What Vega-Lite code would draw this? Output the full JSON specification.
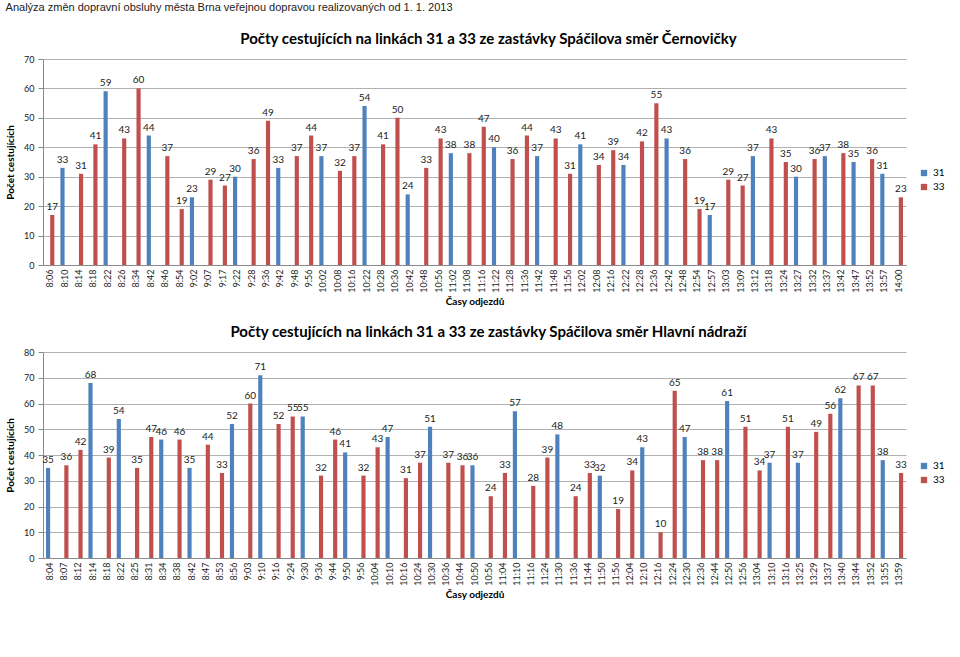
{
  "$schema": "https://vega.github.io/schema/vega-lite/v6.json",
  "background": "white",
  "padding": {"left": 5, "top": 2, "right": 5, "bottom": 5},
  "title": {"text": "Analýza změn dopravní obsluhy města Brna veřejnou dopravou realizovaných od 1. 1. 2013", "anchor": "start", "fontSize": 11, "font": "Liberation Sans", "fontWeight": "normal", "color": "#222", "offset": 19},
  "datasets": {
    "cern": [
      {"t": "8:06", "l": "33", "n": 17}, {"t": "8:10", "l": "31", "n": 33}, {"t": "8:14", "l": "33", "n": 31}, {"t": "8:18", "l": "33", "n": 41},
      {"t": "8:22", "l": "31", "n": 59}, {"t": "8:26", "l": "33", "n": 43}, {"t": "8:34", "l": "33", "n": 60}, {"t": "8:42", "l": "31", "n": 44},
      {"t": "8:46", "l": "33", "n": 37}, {"t": "8:54", "l": "33", "n": 19}, {"t": "9:02", "l": "31", "n": 23}, {"t": "9:07", "l": "33", "n": 29},
      {"t": "9:17", "l": "33", "n": 27}, {"t": "9:22", "l": "31", "n": 30}, {"t": "9:28", "l": "33", "n": 36}, {"t": "9:36", "l": "33", "n": 49},
      {"t": "9:42", "l": "31", "n": 33}, {"t": "9:48", "l": "33", "n": 37}, {"t": "9:56", "l": "33", "n": 44}, {"t": "10:02", "l": "31", "n": 37},
      {"t": "10:08", "l": "33", "n": 32}, {"t": "10:16", "l": "33", "n": 37}, {"t": "10:22", "l": "31", "n": 54}, {"t": "10:28", "l": "33", "n": 41},
      {"t": "10:36", "l": "33", "n": 50}, {"t": "10:42", "l": "31", "n": 24}, {"t": "10:48", "l": "33", "n": 33}, {"t": "10:56", "l": "33", "n": 43},
      {"t": "11:02", "l": "31", "n": 38}, {"t": "11:08", "l": "33", "n": 38}, {"t": "11:16", "l": "33", "n": 47}, {"t": "11:22", "l": "31", "n": 40},
      {"t": "11:28", "l": "33", "n": 36}, {"t": "11:36", "l": "33", "n": 44}, {"t": "11:42", "l": "31", "n": 37}, {"t": "11:48", "l": "33", "n": 43},
      {"t": "11:56", "l": "33", "n": 31}, {"t": "12:02", "l": "31", "n": 41}, {"t": "12:08", "l": "33", "n": 34}, {"t": "12:16", "l": "33", "n": 39},
      {"t": "12:22", "l": "31", "n": 34}, {"t": "12:28", "l": "33", "n": 42}, {"t": "12:36", "l": "33", "n": 55}, {"t": "12:42", "l": "31", "n": 43},
      {"t": "12:48", "l": "33", "n": 36}, {"t": "12:54", "l": "33", "n": 19}, {"t": "12:57", "l": "31", "n": 17}, {"t": "13:03", "l": "33", "n": 29},
      {"t": "13:09", "l": "33", "n": 27}, {"t": "13:12", "l": "31", "n": 37}, {"t": "13:18", "l": "33", "n": 43}, {"t": "13:24", "l": "33", "n": 35},
      {"t": "13:27", "l": "31", "n": 30}, {"t": "13:32", "l": "33", "n": 36}, {"t": "13:37", "l": "31", "n": 37}, {"t": "13:42", "l": "33", "n": 38},
      {"t": "13:47", "l": "31", "n": 35}, {"t": "13:52", "l": "33", "n": 36}, {"t": "13:57", "l": "31", "n": 31}, {"t": "14:00", "l": "33", "n": 23}
    ],
    "hlavni": [
      {"t": "8:04", "l": "31", "n": 35}, {"t": "8:07", "l": "33", "n": 36}, {"t": "8:12", "l": "33", "n": 42}, {"t": "8:14", "l": "31", "n": 68},
      {"t": "8:18", "l": "33", "n": 39}, {"t": "8:22", "l": "31", "n": 54}, {"t": "8:25", "l": "33", "n": 35}, {"t": "8:31", "l": "33", "n": 47},
      {"t": "8:34", "l": "31", "n": 46}, {"t": "8:38", "l": "33", "n": 46}, {"t": "8:42", "l": "31", "n": 35}, {"t": "8:47", "l": "33", "n": 44},
      {"t": "8:53", "l": "33", "n": 33}, {"t": "8:56", "l": "31", "n": 52}, {"t": "9:03", "l": "33", "n": 60}, {"t": "9:10", "l": "31", "n": 71},
      {"t": "9:16", "l": "33", "n": 52}, {"t": "9:24", "l": "33", "n": 55}, {"t": "9:30", "l": "31", "n": 55}, {"t": "9:36", "l": "33", "n": 32},
      {"t": "9:44", "l": "33", "n": 46}, {"t": "9:50", "l": "31", "n": 41}, {"t": "9:56", "l": "33", "n": 32}, {"t": "10:04", "l": "33", "n": 43},
      {"t": "10:10", "l": "31", "n": 47}, {"t": "10:16", "l": "33", "n": 31}, {"t": "10:24", "l": "33", "n": 37}, {"t": "10:30", "l": "31", "n": 51},
      {"t": "10:36", "l": "33", "n": 37}, {"t": "10:44", "l": "33", "n": 36}, {"t": "10:50", "l": "31", "n": 36}, {"t": "10:56", "l": "33", "n": 24},
      {"t": "11:04", "l": "33", "n": 33}, {"t": "11:10", "l": "31", "n": 57}, {"t": "11:16", "l": "33", "n": 28}, {"t": "11:24", "l": "33", "n": 39},
      {"t": "11:30", "l": "31", "n": 48}, {"t": "11:36", "l": "33", "n": 24}, {"t": "11:44", "l": "33", "n": 33}, {"t": "11:50", "l": "31", "n": 32},
      {"t": "11:56", "l": "33", "n": 19}, {"t": "12:04", "l": "33", "n": 34}, {"t": "12:10", "l": "31", "n": 43}, {"t": "12:16", "l": "33", "n": 10},
      {"t": "12:24", "l": "33", "n": 65}, {"t": "12:30", "l": "31", "n": 47}, {"t": "12:36", "l": "33", "n": 38}, {"t": "12:44", "l": "33", "n": 38},
      {"t": "12:50", "l": "31", "n": 61}, {"t": "12:56", "l": "33", "n": 51}, {"t": "13:04", "l": "33", "n": 34}, {"t": "13:10", "l": "31", "n": 37},
      {"t": "13:16", "l": "33", "n": 51}, {"t": "13:25", "l": "31", "n": 37}, {"t": "13:29", "l": "33", "n": 49}, {"t": "13:37", "l": "33", "n": 56},
      {"t": "13:40", "l": "31", "n": 62}, {"t": "13:44", "l": "33", "n": 67}, {"t": "13:52", "l": "33", "n": 67}, {"t": "13:55", "l": "31", "n": 38},
      {"t": "13:59", "l": "33", "n": 33}
    ]
  },
  "vconcat": [
    {
      "width": 863, "height": 206,
      "title": {"text": "Počty cestujících na linkách 31 a 33 ze zastávky Spáčilova směr Černovičky", "fontSize": 15, "font": "Lato", "fontWeight": "bold", "color": "#000", "dx": 14, "offset": 8},
      "data": {"name": "cern"},
      "encoding": {
        "x": {"field": "t", "type": "nominal", "sort": null, "scale": {"paddingInner": 0.42, "paddingOuter": 0.21}, "axis": {"title": "Časy odjezdů", "labelAngle": -90, "ticks": false, "labelPadding": 4}},
        "xOffset": {"field": "l", "type": "nominal", "scale": {"domain": ["31", "33"]}},
        "y": {"field": "n", "type": "quantitative", "scale": {"domain": [0, 70]}, "axis": {"title": "Počet cestujících", "values": [0, 10, 20, 30, 40, 50, 60, 70]}}
      },
      "layer": [
        {"mark": {"type": "bar"}, "encoding": {"color": {"field": "l", "type": "nominal", "scale": {"domain": ["31", "33"], "range": ["#4F81BD", "#C0504D"]}, "legend": {"title": null, "orient": "none", "legendX": 876, "legendY": 109, "symbolType": "square", "symbolSize": 40, "labelFontSize": 10, "labelFont": "Lato", "rowPadding": 4}}}},
        {"mark": {"type": "text", "dy": -8, "fontSize": 10, "font": "Lato", "color": "#222"}, "encoding": {"text": {"field": "n", "type": "quantitative"}}}
      ]
    },
    {
      "width": 863, "height": 206,
      "title": {"text": "Počty cestujících na linkách 31 a 33 ze zastávky Spáčilova směr Hlavní nádraží", "fontSize": 15, "font": "Lato", "fontWeight": "bold", "color": "#000", "dx": 14, "offset": 8},
      "data": {"name": "hlavni"},
      "encoding": {
        "x": {"field": "t", "type": "nominal", "sort": null, "scale": {"paddingInner": 0.42, "paddingOuter": 0.21}, "axis": {"title": "Časy odjezdů", "labelAngle": -90, "ticks": false, "labelPadding": 4}},
        "xOffset": {"field": "l", "type": "nominal", "scale": {"domain": ["31", "33"]}},
        "y": {"field": "n", "type": "quantitative", "scale": {"domain": [0, 80]}, "axis": {"title": "Počet cestujících", "values": [0, 10, 20, 30, 40, 50, 60, 70, 80]}}
      },
      "layer": [
        {"mark": {"type": "bar"}, "encoding": {"color": {"field": "l", "type": "nominal", "scale": {"domain": ["31", "33"], "range": ["#4F81BD", "#C0504D"]}, "legend": {"title": null, "orient": "none", "legendX": 876, "legendY": 109, "symbolType": "square", "symbolSize": 40, "labelFontSize": 10, "labelFont": "Lato", "rowPadding": 4}}}},
        {"mark": {"type": "text", "dy": -8, "fontSize": 10, "font": "Lato", "color": "#222"}, "encoding": {"text": {"field": "n", "type": "quantitative"}}}
      ]
    }
  ],
  "spacing": 18,
  "resolve": {"scale": {"color": "independent"}, "legend": {"color": "independent"}},
  "config": {
    "view": {"stroke": null},
    "axis": {"labelFont": "Lato", "labelFontSize": 9, "labelColor": "#222", "titleFont": "Lato", "titleFontSize": 10, "titleFontWeight": "bold", "titleColor": "#000", "gridColor": "#b0b0b0", "domainColor": "#8a8a8a", "tickColor": "#8a8a8a"},
    "axisX": {"grid": false},
    "axisY": {"domain": true, "labelPadding": 4, "titlePadding": 8}
  }
}
